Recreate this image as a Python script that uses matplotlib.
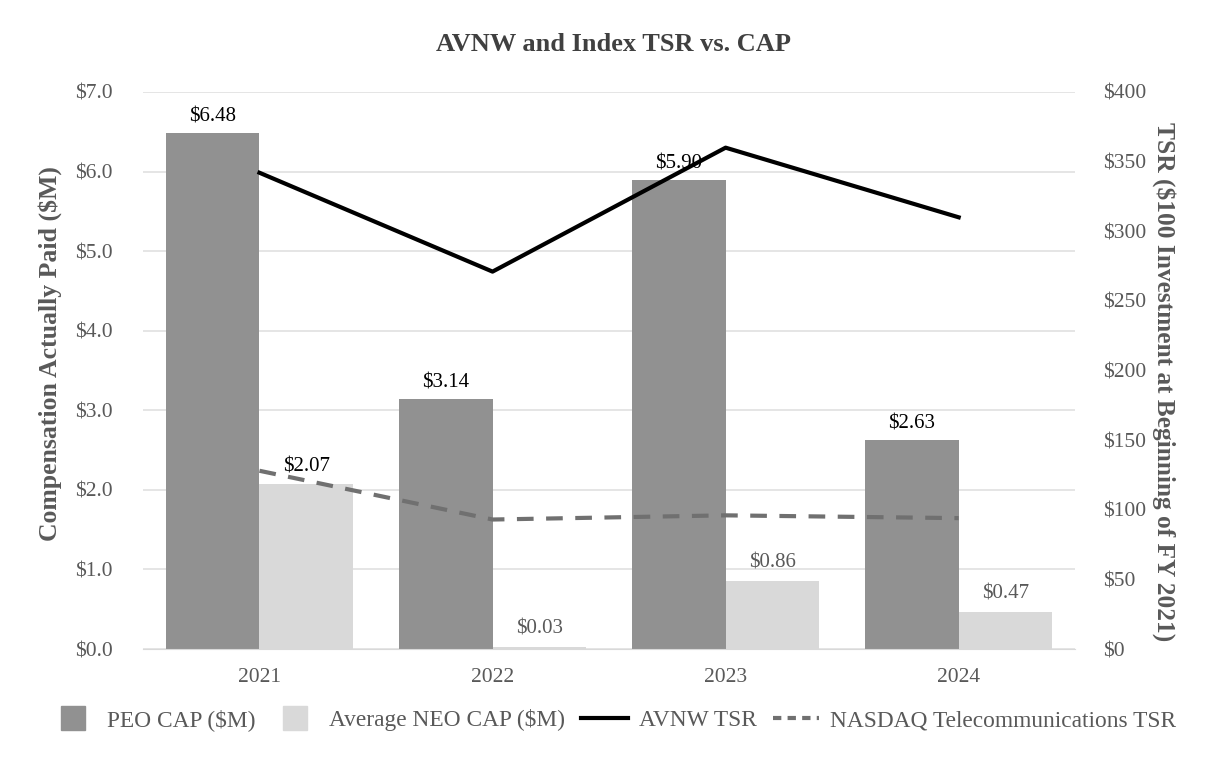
import matplotlib
matplotlib.use('Agg')
import matplotlib.pyplot as plt
import numpy as np
from matplotlib.lines import Line2D

years = ['2021', '2022', '2023', '2024']
peo_cap = [6.48, 3.14, 5.90, 2.63]
neo_cap = [2.07, 0.03, 0.86, 0.47]
avnw_tsr = [342, 271, 360, 310]
nasdaq_tsr = [128, 93, 96, 94]

plt.rcParams['font.family'] = ['Liberation Serif', 'DejaVu Serif']

peo_col = '#919191'
neo_col = '#d9d9d9'
txt_col = '#595959'

fig = plt.figure(figsize=(12.26, 7.6), dpi=100)
ax = fig.add_axes([0.1166, 0.146, 0.7604, 0.733])
ax2 = ax.twinx()

x = np.arange(len(years))
w = 0.4
ax.bar(x - w/2, peo_cap, w, color=peo_col, zorder=2)
ax.bar(x + w/2, neo_cap, w, color=neo_col, zorder=2)

for xi, v in zip(x, peo_cap):
    ax.text(xi - w/2, v + 0.08, '$%.2f' % v, ha='center', va='bottom', fontsize=15, color='black')
# first NEO label sits on top of the dashed line, shown in black
neo_lbl_cols = ['black', txt_col, txt_col, txt_col]
for xi, v, c in zip(x, neo_cap, neo_lbl_cols):
    ax.text(xi + w/2, v + 0.1, '$%.2f' % v, ha='center', va='bottom', fontsize=15, color=c)

ax2.plot(x, avnw_tsr, color='black', lw=3, zorder=3)
ax2.plot(x, nasdaq_tsr, color='#707070', lw=3, ls=(0, (4, 3)), zorder=3)

ax.set_xlim(-0.5, 3.5)
ax.set_ylim(0, 7)
ax.set_yticks(np.arange(0, 7.01, 1.0))
ax.set_yticklabels(['$%.1f' % t for t in np.arange(0, 7.01, 1.0)])
ax2.set_ylim(0, 400)
ax2.set_yticks(range(0, 401, 50))
ax2.set_yticklabels(['$%d' % t for t in range(0, 401, 50)])
ax.set_xticks(x)
ax.set_xticklabels(years)

ax.grid(axis='y', color='#e3e3e3', lw=1.3, zorder=0)
ax.set_axisbelow(True)
for a in (ax, ax2):
    for s in a.spines.values():
        s.set_visible(False)
    a.tick_params(length=0, labelsize=15.5, colors=txt_col)
ax.spines['bottom'].set_visible(True)
ax.spines['bottom'].set_color('#d9d9d9')
ax.tick_params(axis='x', pad=14)
ax.tick_params(axis='y', pad=22)
ax2.tick_params(axis='y', pad=20)

ax.set_ylabel('Compensation Actually Paid ($M)', fontsize=18.5, fontweight='bold', color=txt_col, labelpad=8)
ax.yaxis.set_label_coords(-0.087, 0.53)
ax2.set_ylabel('TSR ($100 Investment at Beginning of FY 2021)', fontsize=18.3, fontweight='bold',
               color=txt_col, rotation=270, labelpad=20)
ax2.yaxis.set_label_coords(1.108, 0.48)
fig.text(0.5, 0.942, 'AVNW and Index TSR vs. CAP', ha='center', va='center', fontsize=19,
         fontweight='bold', color='#404040')

handles = [Line2D([], [], marker='s', ls='', markersize=17, color=peo_col),
           Line2D([], [], marker='s', ls='', markersize=17, color=neo_col),
           Line2D([], [], color='black', lw=3),
           Line2D([], [], color='#707070', lw=3, ls=(0, (2, 1.5)))]
labels = ['PEO CAP ($M)', 'Average NEO CAP ($M)', 'AVNW TSR', 'NASDAQ Telecommunications TSR']
leg = fig.legend(handles, labels, loc='center', bbox_to_anchor=(0.5, 0.052), ncol=4, frameon=False,
                 fontsize=16.8, handlelength=2.0, columnspacing=0.7, handletextpad=0.45)
for t in leg.get_texts():
    t.set_color(txt_col)

fig.savefig('out.png', dpi=100)
